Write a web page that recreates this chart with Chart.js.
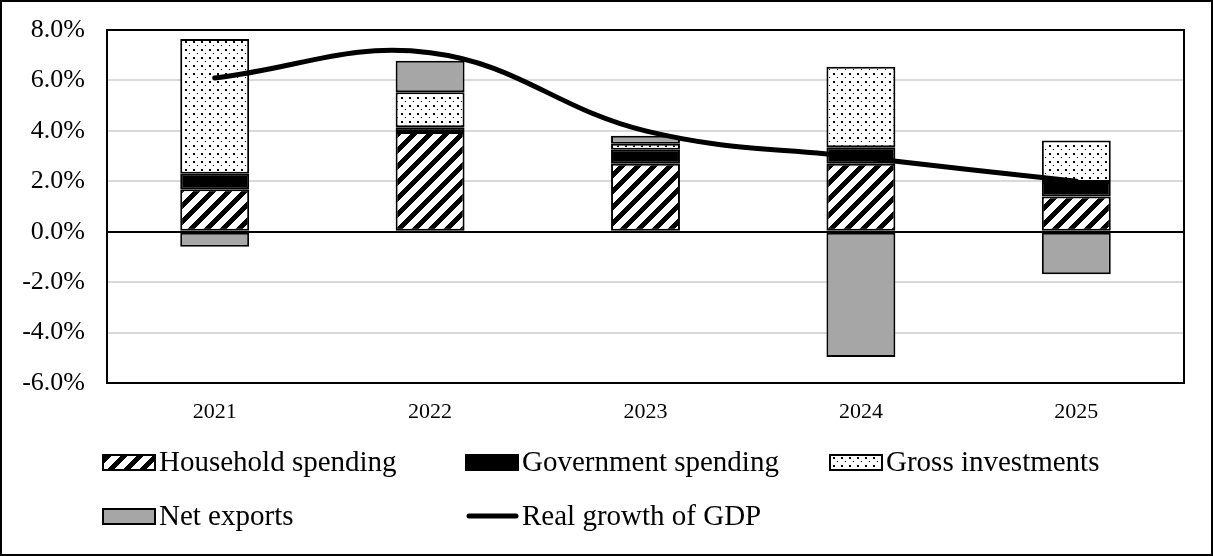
<!DOCTYPE html>
<html>
<head>
<meta charset="utf-8">
<script src="https://cdn.jsdelivr.net/npm/chart.js@4.4.1/dist/chart.umd.min.js"></script>
<style>
  html, body { margin: 0; padding: 0; background: #fff; }
</style>
</head>
<body>
<canvas id="growth" width="1213" height="556"></canvas>
<script>
// Contributions to real GDP growth, percentage points
const years = ["2021", "2022", "2023", "2024", "2025"];
const household = [1.68, 3.95, 2.70, 2.70, 1.40];
const government = [0.62, 0.19, 0.55, 0.65, 0.57];
const investments = [5.34, 1.39, 0.24, 3.19, 1.65];
const netExports = [-0.60, 1.25, 0.32, -4.97, -1.69];
const gdpGrowth = [6.1, 7.1, 4.0, 2.95, 2.0];
const yTicks = [-6, -4, -2, 0, 2, 4, 6, 8];

Chart.defaults.font.family = "'Liberation Serif', 'Times New Roman', serif";
Chart.defaults.color = "#000";

// diagonal stripes for household spending, set pixel by pixel so tiles join cleanly
function hatchPattern() {
    const size = 16;
    const c = document.createElement("canvas");
    c.width = size; c.height = size;
    const g = c.getContext("2d");
    const img = g.createImageData(size, size);
    for (let y = 0; y < size; y++) {
        for (let x = 0; x < size; x++) {
            const on = (x + y) % size < 7;
            const i = (y * size + x) * 4;
            const v = on ? 0 : 255;
            img.data[i] = v; img.data[i + 1] = v; img.data[i + 2] = v; img.data[i + 3] = 255;
        }
    }
    g.putImageData(img, 0, 0);
    return g.createPattern(c, "repeat");
}

// fine dots for gross investments
function dotPattern() {
    const c = document.createElement("canvas");
    c.width = 8; c.height = 8;
    const g = c.getContext("2d");
    g.fillStyle = "#fff";
    g.fillRect(0, 0, 8, 8);
    g.fillStyle = "#000";
    g.fillRect(1, 1, 2, 2);
    g.fillRect(5, 5, 1, 1);
    return g.createPattern(c, "repeat");
}

const hatch = hatchPattern();
const dots = dotPattern();

// frame round the plot area and the whole picture
const frame = {
    id: "frame",
    afterDatasetsDraw(chart) {
        const { ctx, chartArea: a } = chart;
        ctx.save();
        ctx.strokeStyle = "#000";
        ctx.lineWidth = 2;
        ctx.strokeRect(a.left, a.top, a.right - a.left, a.bottom - a.top);
        ctx.strokeRect(1, 1, chart.width - 2, chart.height - 2);
        ctx.restore();
    }
};

// legend laid out in fixed columns, two rows
const legendRows = [
    { y: 462, items: [0, 1, 2] },
    { y: 516, items: [3, 4] }
];
const legendCols = [103, 466, 830];
const boxLegend = {
    id: "boxLegend",
    afterDraw(chart) {
        const ctx = chart.ctx;
        ctx.save();
        ctx.font = "29px 'Liberation Serif', 'Times New Roman', serif";
        ctx.textBaseline = "middle";
        legendRows.forEach(row => {
            row.items.forEach((di, col) => {
                const ds = chart.data.datasets[di];
                const x = legendCols[col];
                if (ds.type === "line") {
                    ctx.strokeStyle = "#000";
                    ctx.lineWidth = 5;
                    ctx.lineCap = "round";
                    ctx.beginPath();
                    ctx.moveTo(x + 3, row.y);
                    ctx.lineTo(x + 50, row.y);
                    ctx.stroke();
                } else {
                    ctx.fillStyle = ds.backgroundColor;
                    ctx.fillRect(x, row.y - 7, 52, 15);
                    ctx.strokeStyle = "#000";
                    ctx.lineWidth = 2;
                    ctx.strokeRect(x, row.y - 7, 52, 15);
                }
                ctx.fillStyle = "#000";
                ctx.fillText(ds.label, x + 56, row.y + 1);
            });
        });
        ctx.restore();
    }
};

const barStyle = {
    type: "bar",
    borderColor: "#000",
    borderWidth: 2,
    borderSkipped: false,
    inflateAmount: 0,
    barPercentage: 0.32,
    categoryPercentage: 1,
    stack: "gdp",
    order: 1
};

new Chart(document.getElementById("growth"), {
    data: {
        labels: years,
        datasets: [
            { ...barStyle, label: "Household spending", data: household, backgroundColor: hatch },
            { ...barStyle, label: "Government spending", data: government, backgroundColor: "#000" },
            { ...barStyle, label: "Gross investments", data: investments, backgroundColor: dots },
            { ...barStyle, label: "Net exports", data: netExports, backgroundColor: "#a6a6a6" },
            {
                type: "line",
                label: "Real growth of GDP",
                data: gdpGrowth,
                borderColor: "#000",
                borderWidth: 5,
                tension: 0.4,
                pointRadius: 0,
                borderCapStyle: "round",
                order: 0
            }
        ]
    },
    options: {
        responsive: false,
        animation: false,
        layout: { padding: { top: 30, right: 29, bottom: 125, left: 0 } },
        plugins: {
            legend: { display: false },
            tooltip: { enabled: false }
        },
        scales: {
            x: {
                stacked: true,
                grid: { display: false },
                border: { display: false },
                ticks: { font: { size: 22 }, padding: 8 },
                afterFit: s => { s.height = 48; s.paddingLeft = 0; s.paddingRight = 0; }
            },
            y: {
                stacked: true,
                min: -6,
                max: 8,
                afterBuildTicks: s => { s.ticks = yTicks.map(v => ({ value: v })); },
                ticks: {
                    font: { size: 26 },
                    padding: 22,
                    callback: v => v.toFixed(1) + "%"
                },
                grid: {
                    drawTicks: false,
                    lineWidth: 2,
                    color: c => (c.tick && c.tick.value === 0 ? "#000" : "#d9d9d9")
                },
                border: { display: false },
                afterFit: s => { s.width = 107; s.paddingTop = 0; s.paddingBottom = 0; }
            }
        }
    },
    plugins: [frame, boxLegend]
});
</script>
</body>
</html>
